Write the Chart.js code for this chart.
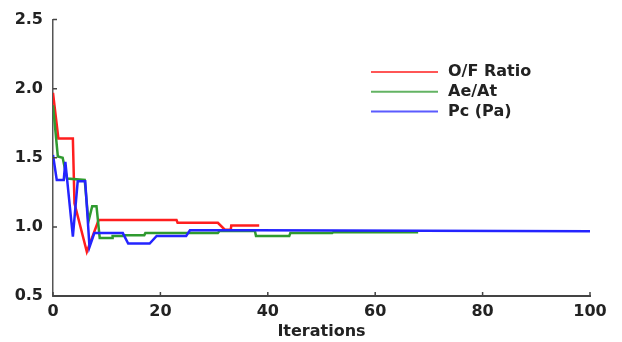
<!DOCTYPE html>
<html>
<head>
<meta charset="utf-8">
<script src="https://cdn.jsdelivr.net/npm/chart.js@4"></script>
<style>
  body { margin: 0; background: #fff; }
  #wrap { position: relative; width: 622px; height: 342px; }
</style>
</head>
<body>
<div id="wrap"><canvas id="chart"></canvas></div>
<script>
// values (x = iteration, y = normalised value)
const seriesNames = ['O/F Ratio', 'Ae/At', 'Pc (Pa)'];

const ofX = [0, 1, 3.7, 4.0, 6.3, 8.5, 23, 23.2, 30.7, 32, 33.1, 33.2, 38.4];
const ofY = [1.97, 1.64, 1.64, 1.17, 0.82, 1.05, 1.05, 1.03, 1.03, 0.98, 0.98, 1.01, 1.01];

const aeX = [0, 0.9, 1.8, 2.6, 5.9, 6.6, 7.3, 8.1, 8.7, 11, 11.1, 13, 13.1, 17, 17.2, 30.7, 31, 37.6, 37.8, 44, 44.2, 52, 52.2, 68];
const aeY = [1.88, 1.51, 1.5, 1.35, 1.34, 1.04, 1.15, 1.15, 0.92, 0.92, 0.935, 0.935, 0.94, 0.94, 0.955, 0.955, 0.97, 0.97, 0.935, 0.935, 0.955, 0.955, 0.962, 0.962];

const pcX = [0, 0.7, 2.0, 2.3, 3.7, 4.6, 6.0, 6.8, 7.7, 13, 14, 18, 19.3, 24.8, 25.5, 38, 100];
const pcY = [1.52, 1.34, 1.34, 1.47, 0.93, 1.33, 1.33, 0.855, 0.955, 0.955, 0.88, 0.88, 0.935, 0.935, 0.975, 0.975, 0.968];

const colors = ['#ff1e1e', '#2f9a2f', '#2424ff'];

function pts(xs, ys) {
  return xs.map((x, i) => ({x: x, y: ys[i]}));
}

const font = {family: 'DejaVu Sans', weight: 'bold', size: 16};

// small ticks pointing into the plot, like the original
const innerTicks = {
  id: 'innerTicks',
  afterDraw(chart) {
    const ctx = chart.ctx;
    const xs = chart.scales.x, ys = chart.scales.y;
    const area = chart.chartArea;
    ctx.save();
    ctx.strokeStyle = '#444';
    ctx.lineWidth = 1.5;
    ctx.beginPath();
    ys.ticks.forEach(t => {
      const p = ys.getPixelForValue(t.value);
      ctx.moveTo(area.left, p);
      ctx.lineTo(area.left + 4, p);
    });
    xs.ticks.forEach(t => {
      const p = xs.getPixelForValue(t.value);
      ctx.moveTo(p, area.bottom);
      ctx.lineTo(p, area.bottom - 4);
    });
    ctx.stroke();
    ctx.restore();
  }
};

const lineLegend = {
  id: 'lineLegend',
  afterDraw(chart) {
    const ctx = chart.ctx;
    ctx.save();
    ctx.font = 'bold 16px "DejaVu Sans"';
    ctx.textBaseline = 'middle';
    chart.data.datasets.forEach((ds, i) => {
      const y = 72 + i * 19.8;
      ctx.strokeStyle = ds.borderColor;
      ctx.globalAlpha = 0.75;
      ctx.lineWidth = 2;
      ctx.beginPath();
      ctx.moveTo(371, y);
      ctx.lineTo(438, y);
      ctx.stroke();
      ctx.globalAlpha = 1;
      ctx.fillStyle = '#222';
      ctx.fillText(ds.label, 448, y);
    });
    ctx.restore();
  }
};

new Chart(document.getElementById('chart'), {
  type: 'line',
  data: {
    datasets: [
      {label: seriesNames[0], data: pts(ofX, ofY), borderColor: colors[0], order: 2},
      {label: seriesNames[1], data: pts(aeX, aeY), borderColor: colors[1], order: 1},
      {label: seriesNames[2], data: pts(pcX, pcY), borderColor: colors[2], order: 0}
    ]
  },
  options: {
    responsive: true,
    maintainAspectRatio: false,
    animation: false,
    parsing: false,
    elements: {
      line: {borderWidth: 2.5, tension: 0, fill: false},
      point: {radius: 0}
    },
    layout: {padding: {top: 17, right: 32, left: 0, bottom: 0}},
    plugins: {
      legend: {display: false},
      tooltip: {enabled: false}
    },
    scales: {
      x: {
        type: 'linear',
        min: 0, max: 100,
        grid: {display: false, drawTicks: false},
        border: {color: '#444', width: 2},
        ticks: {stepSize: 20, color: '#222', font: font, padding: 6, maxRotation: 0},
        title: {display: true, text: 'Iterations', color: '#222', font: font, padding: {top: 0, bottom: 1}},
        afterFit(scale) { scale.height = 46; }
      },
      y: {
        min: 0.5, max: 2.5,
        grid: {display: false, drawTicks: false},
        border: {color: '#555', width: 1.5},
        ticks: {stepSize: 0.5, color: '#222', font: font, padding: 10,
                callback: v => v.toFixed(1)},
        afterFit(scale) { scale.width = 53; }
      }
    }
  },
  plugins: [innerTicks, lineLegend]
});
</script>
</body>
</html>
